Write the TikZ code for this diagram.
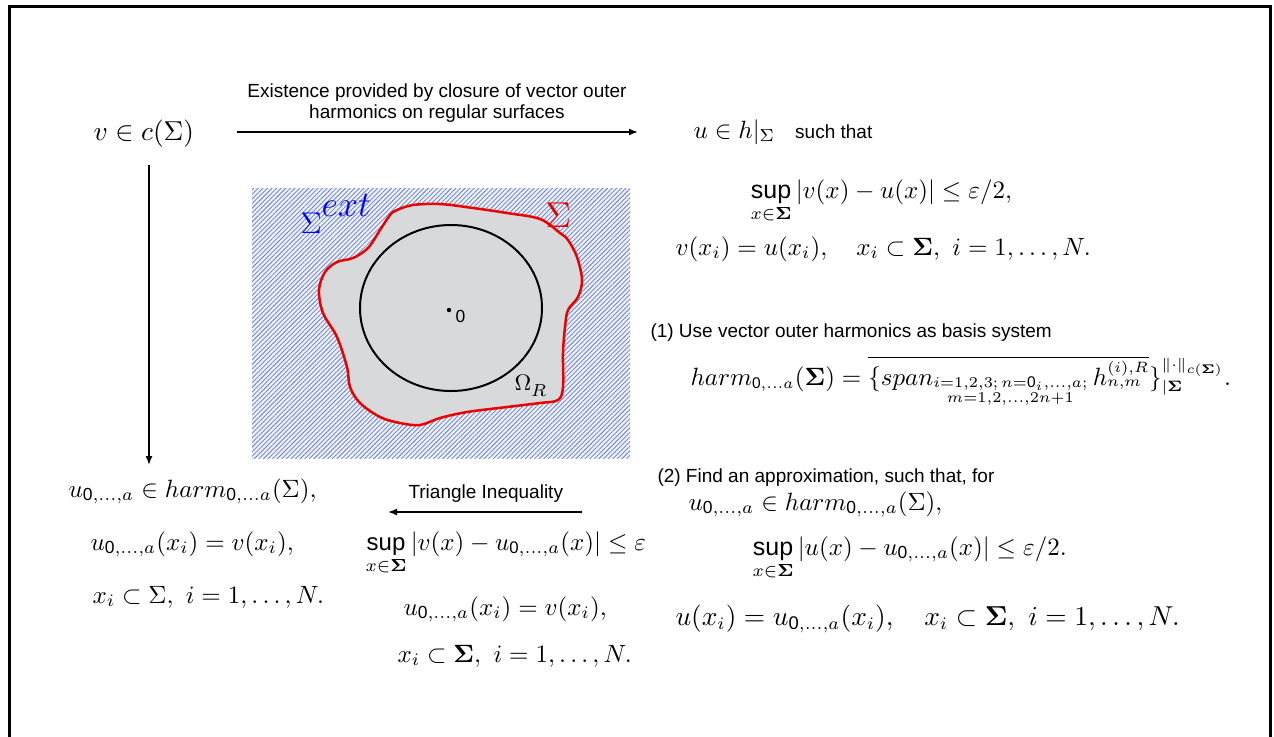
\documentclass[tikz,border=0pt]{standalone}
\usepackage{amsmath}
\usepackage{fontspec}
\newfontfamily\arial{Liberation Sans}
\usetikzlibrary{arrows.meta,patterns.meta}
\DeclareMathSizes{10.01}{10.01}{6.2}{4.8}
\newcommand{\zs}{\text{\arial 0}}
\newcommand{\Sup}{\mathop{\text{\arial sup}}\limits}
\newcommand{\bS}{\boldsymbol{\Sigma}}
\definecolor{sigred}{RGB}{235,0,0}
\definecolor{sigblue}{RGB}{0,0,255}
\definecolor{hatchbg}{RGB}{234,238,246}
\definecolor{hatchln}{RGB}{108,128,195}
\definecolor{blobgray}{RGB}{215,217,219}
\begin{document}
\begin{tikzpicture}[x=0.4pt,y=-0.4pt,
  math/.style={anchor=base west,inner sep=0pt,font=\fontsize{10}{12}\selectfont},
  lbl/.style={anchor=base west,inner sep=0pt,font=\arial\fontsize{7.6}{8.6}\selectfont},
  arr/.style={line width=0.6pt,-{Latex[length=3.6pt,width=2.8pt]}}]
\useasboundingbox (0,0) rectangle (1274,736);
\fill[white] (0,0) rectangle (1274,736);
\draw[line width=1.2pt] (9,740) -- (9,6) -- (1270,6) -- (1270,740);

% top row
\node[math,font=\fontsize{11}{13}\selectfont] (v) at (93,140) {$v\in c(\Sigma)$};
\node[math] (u) at (693,138) {$u\in h|_{\Sigma}$\hspace{8pt}{\arial\fontsize{7.6}{9}\selectfont such that}};
\node[lbl,anchor=center,align=center] (lab) at (437,103) {Existence provided by closure of vector outer\\harmonics on regular surfaces};
\coordinate (a1) at (237,132);
\coordinate (a2) at (638,132);
\draw[arr] (a1) -- (a2);

\node[math] (s1) at (750,198) {$\Sup_{x\in\bS}|v(x)-u(x)|\le\varepsilon/2,$};
\node[math] (e1) at (675,255) {$v(x_i)=u(x_i),\quad x_i\subset\bS,\ i=1,\ldots,N.$};

% vertical arrow
\coordinate (d1) at (149,165);
\coordinate (d2) at (149,465);
\draw[arr] (d1) -- (d2);

% diagram
\fill[hatchbg] (252,188) rectangle (630,458);
\fill[pattern={Lines[angle=45,distance=1.3pt,line width=0.3pt]},pattern color=hatchln] (252,188) rectangle (630,458);
\filldraw[fill=blobgray,draw=sigred,line width=1pt] plot[smooth cycle,tension=0.55] coordinates {
(397,210) (413,205) (440,204) (473,208) (507,213) (540,219) (560,233) (568,240)
(577,257) (582,280) (578,297) (568,310) (565,327) (563,353) (563,387) (558,400)
(540,403) (507,407) (467,412) (440,418) (420,425) (400,423) (380,417) (360,403)
(350,387) (347,367) (337,337) (323,313) (319,290) (325,272) (337,262) (353,258)
(368,248) (380,230) (390,215)};
\draw[line width=0.8pt] (451,308) ellipse [x radius=91, y radius=83];
\fill (449,310) circle [radius=2.2];
\node[anchor=west,inner sep=0pt,font=\arial\fontsize{7}{8}\selectfont] (zero) at (455,316) {0};
\node[anchor=base west,inner sep=0pt,text=sigblue,font=\fontsize{13}{15}\selectfont] (sext) at (300,233) {$\Sigma$\raisebox{6.5pt}{\fontsize{13.5}{15}\selectfont$ext$}};
\node[anchor=base west,inner sep=0pt,text=sigred,font=\fontsize{14}{16}\selectfont] (sig) at (545,227) {$\Sigma$};
\node[anchor=base west,inner sep=0pt,font=\fontsize{9}{11}\selectfont] (om) at (514,390) {$\Omega$\raisebox{-2.5pt}{\fontsize{7.5}{9}\selectfont$R$}};

% left block
\node[math] (l1) at (68,497) {$u_{\zs,\ldots,a}\in harm_{\zs,\ldots a}(\Sigma),$};
\node[math] (l2) at (90,550) {$u_{\zs,\ldots,a}(x_i)=v(x_i),$};
\node[math] (l3) at (92,603) {$x_i\subset\Sigma,\ i=1,\ldots,N.$};

% middle block
\node[lbl] (tri) at (408,498) {Triangle Inequality};
\coordinate (b1) at (582,512);
\coordinate (b2) at (388,512);
\draw[arr] (b1) -- (b2);
\node[math,font=\fontsize{9.6}{11}\selectfont] (m1) at (365,550) {$\Sup_{x\in\bS}|v(x)-u_{\zs,\ldots,a}(x)|\le\varepsilon$};
\node[math] (m2) at (403,615) {$u_{\zs,\ldots,a}(x_i)=v(x_i),$};
\node[math] (m3) at (397,662) {$x_i\subset\bS,\ i=1,\ldots,N.$};

% right block
\node[lbl] (p1) at (650,337) {(1) Use vector outer harmonics as basis system};
\node[math,font=\fontsize{10.01}{12}\selectfont] (hf) at (690,385) {$harm_{\zs,\ldots a}(\bS)=\overline{\{span_{\substack{i=1,2,3;\,n=\zs_i,\ldots,a;\\ m=1,2,\ldots,2n+1}}\,h^{(i),R}_{n,m}}\}^{\|\cdot\|_{\scriptscriptstyle c(\bS)}}_{|\bS}.$};
\node[lbl] (p2) at (657,482) {(2) Find an approximation, such that, for};
\node[math] (r1) at (688,510) {$u_{\zs,\ldots,a}\in harm_{\zs,\ldots,a}(\Sigma),$};
\node[math] (r2) at (752,555) {$\Sup_{x\in\bS}|u(x)-u_{\zs,\ldots,a}(x)|\le\varepsilon/2.$};
\node[math,font=\fontsize{10.5}{13}\selectfont] (r3) at (675,625) {$u(x_i)=u_{\zs,\ldots,a}(x_i),\quad x_i\subset\bS,\ i=1,\ldots,N.$};
\end{tikzpicture}
\end{document}
